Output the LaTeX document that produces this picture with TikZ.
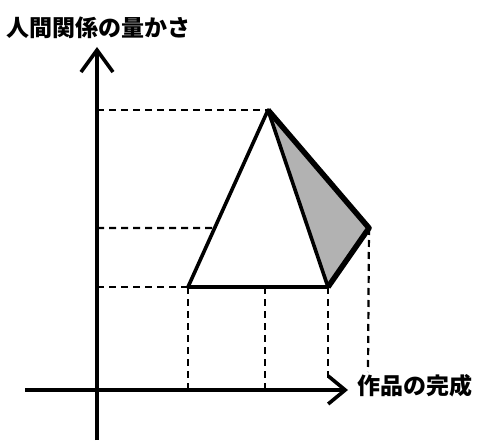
\documentclass[tikz,border=0pt]{standalone}
\usepackage{fontspec}
\newfontfamily\jpfont{Noto Sans CJK JP}
\usetikzlibrary{arrows.meta,calc}

\begin{document}
\begin{tikzpicture}[
    x = 1pt, y = -1pt,
    every node/.style = {font=\jpfont\bfseries\fontsize{23}{23}\selectfont, inner sep=0pt},
    % Named styles
    axis/.style     = {line width=3.4pt},
    ytip/.style     = {-{Straight Barb[length=22pt, width=32pt, line width=3.6pt]}},
    xtip/.style     = {-{Straight Barb[length=17pt, width=28pt, line width=3.6pt]}},
    edge/.style     = {line width=3.6pt, line join=round},
    heavyedge/.style= {line width=5.5pt, line join=round},
    shade/.style    = {fill=black!30},
    guide/.style    = {line width=2.2pt, dash pattern=on 7pt off 5pt},
]

% ── Frame (reference size in px) ─────────────────────────────────────────────
\useasboundingbox (0,0) rectangle (479,446);

% ── Key points ────────────────────────────────────────────────────────────────
\def\xO{97}    % y-axis position
\def\yO{390}   % x-axis position
\coordinate (apex) at (268,110);
\coordinate (bl)   at (188,287);
\coordinate (br)   at (328,287);
\coordinate (rpt)  at (369,228);
\coordinate (mid)  at ($(bl)!{59/177}!(apex)$);
\coordinate (bm)   at (265,287);

% ── Axes ──────────────────────────────────────────────────────────────────────
\coordinate (ybot) at (\xO,440);
\coordinate (ytop) at (\xO,47);
\coordinate (xlft) at (25,\yO);
\coordinate (xrgt) at (348,\yO);
\draw[axis, ytip] (ybot) -- (ytop);
\draw[axis, xtip] (xlft) -- (xrgt);

\node[anchor=west] (ylab) at (6,28) {人間関係の量かさ};
\node[anchor=west] (xlab) at (357,386) {作品の完成};

% ── Guide lines ───────────────────────────────────────────────────────────────
\coordinate (yA) at (\xO,110);
\coordinate (yB) at (\xO,228);
\coordinate (yC) at (\xO,287);
\draw[guide] (yA) -- (apex);
\draw[guide] (yB) -- (mid);
\draw[guide] (yC) -- (bl);

\coordinate (xA) at (188,\yO);
\coordinate (xB) at (265,\yO);
\coordinate (xC) at (328,382);
\coordinate (xD) at (368,372);
\draw[guide] (bl)  -- (xA);
\draw[guide] (bm)  -- (xB);
\draw[guide] (br)  -- (xC);
\draw[guide] (rpt) -- (xD);

% ── Shaded side face ─────────────────────────────────────────────────────────
\fill[shade] (apex) -- (rpt) -- (br) -- cycle;
\draw[heavyedge] (apex) -- (rpt) -- (br);

% ── Triangle ──────────────────────────────────────────────────────────────────
\draw[edge] (apex) -- (bl) -- (br) -- cycle;

\end{tikzpicture}
\end{document}
